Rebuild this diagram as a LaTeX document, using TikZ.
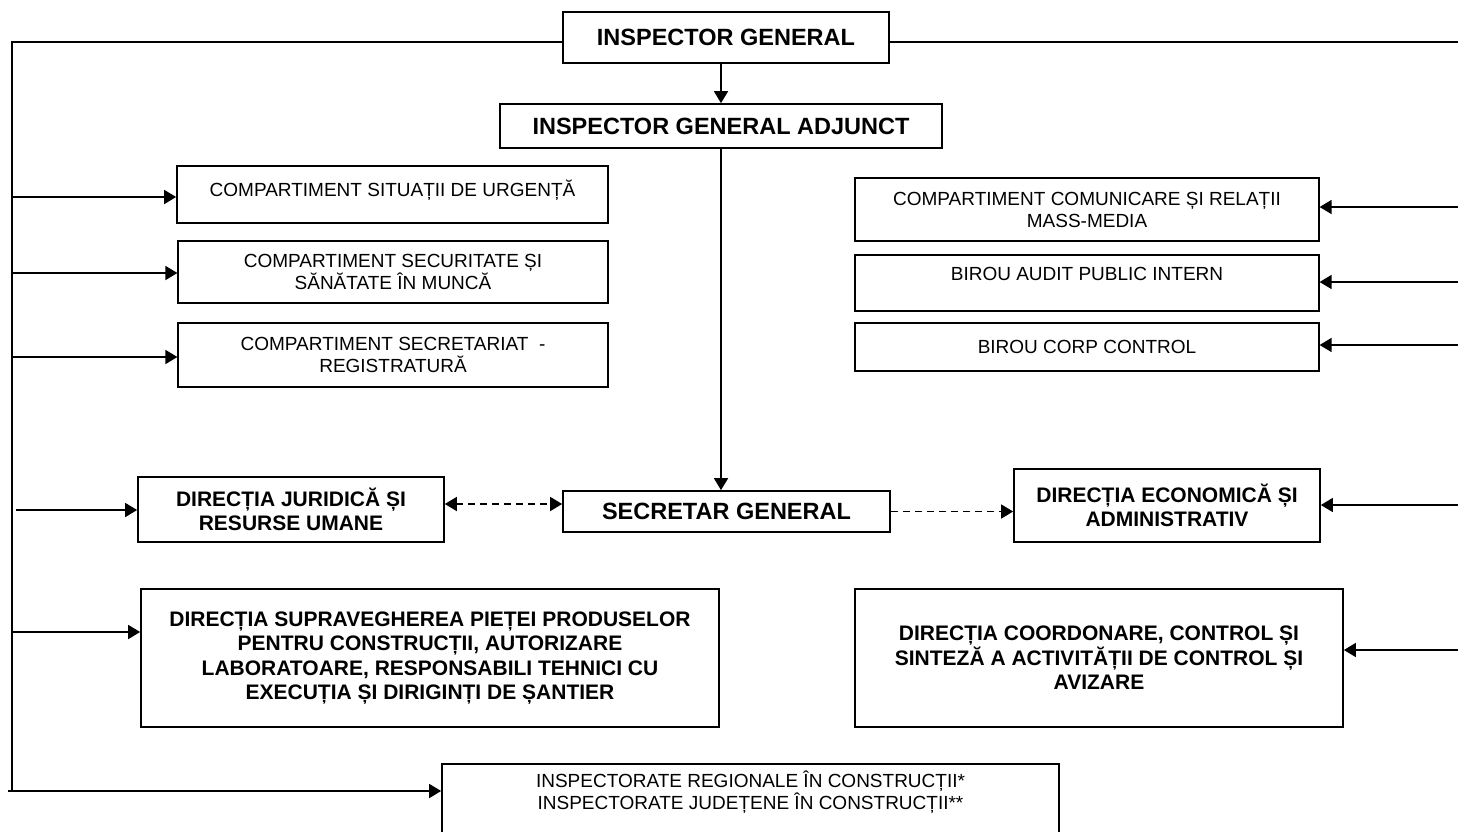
\documentclass[tikz,border=0pt]{standalone}
\usepackage{fontspec}
\setmainfont{Liberation Sans}
\usetikzlibrary{arrows.meta}

\begin{document}
\begin{tikzpicture}[x=1pt, y=-1pt,
    >={Triangle[length=12pt,width=14pt]},
    box/.style={draw, line width=1.7pt, align=center, inner sep=0pt},
    thinbox/.style={box, line width=1.2pt},
    unitfont/.style={font=\fontsize{19}{22}\selectfont},
    dirfont/.style={font=\bfseries\fontsize{21}{24.5}\selectfont},
    headfont/.style={font=\bfseries\fontsize{23.5}{28}\selectfont},
    link/.style={line width=1.6pt},
    arr/.style={link, ->},
    dasharr/.style={arr, dash pattern=on 7pt off 5pt}]

  \useasboundingbox (0,0) rectangle (1458,831);

  \node[box, headfont, minimum width=326pt, minimum height=51pt] (ig) at (726,37.5) {INSPECTOR GENERAL};
  \node[box, headfont, minimum width=442pt, minimum height=44pt] (iga) at (721,126) {INSPECTOR GENERAL ADJUNCT};
  \node[box, headfont, minimum width=327pt, minimum height=41pt] (sg) at (726.5,511.5) {SECRETAR GENERAL};

  \node[box, unitfont, minimum width=431pt, minimum height=57pt] (urgenta) at (392.5,194.5) {COMPARTIMENT SITUAȚII DE URGENȚĂ\\[-9pt]~};
  \node[thinbox, unitfont, minimum width=430pt, minimum height=62pt] (sanatate) at (393,272) {COMPARTIMENT SECURITATE ȘI\\SĂNĂTATE ÎN MUNCĂ};
  \node[thinbox, unitfont, minimum width=430pt, minimum height=64pt] (registratura) at (393,355) {COMPARTIMENT SECRETARIAT\ \ -\\REGISTRATURĂ};
  \node[box, dirfont, minimum width=306pt, minimum height=65pt] (juridic) at (291,509.5) {DIRECȚIA JURIDICĂ ȘI\\RESURSE UMANE};
  \node[box, dirfont, minimum width=578pt, minimum height=138pt] (piata) at (430,658) {DIRECȚIA SUPRAVEGHEREA PIEȚEI PRODUSELOR\\PENTRU CONSTRUCȚII, AUTORIZARE\\LABORATOARE, RESPONSABILI TEHNICI CU\\EXECUȚIA ȘI DIRIGINȚI DE ȘANTIER};
  \node[box, unitfont, minimum width=617pt, minimum height=74pt] (inspectorate) at (750.5,801) {INSPECTORATE REGIONALE ÎN CONSTRUCȚII*\\INSPECTORATE JUDEȚENE ÎN CONSTRUCȚII**\\~};

  \node[thinbox, unitfont, minimum width=464pt, minimum height=63pt] (media) at (1087,209.5) {COMPARTIMENT COMUNICARE ȘI RELAȚII\\MASS-MEDIA};
  \node[thinbox, unitfont, minimum width=464pt, minimum height=56pt] (audit) at (1087,283) {BIROU AUDIT PUBLIC INTERN\\[-4pt]~};
  \node[thinbox, unitfont, minimum width=464pt, minimum height=48pt] (corp) at (1087,347) {BIROU CORP CONTROL};
  \node[box, dirfont, minimum width=306pt, minimum height=73pt] (economic) at (1167,505.5) {DIRECȚIA ECONOMICĂ ȘI\\ADMINISTRATIV};
  \node[box, dirfont, minimum width=488pt, minimum height=138pt] (coordonare) at (1099,658) {DIRECȚIA COORDONARE, CONTROL ȘI\\SINTEZĂ A ACTIVITĂȚII DE CONTROL ȘI\\AVIZARE};

  \coordinate (lt) at (12,42);
  \coordinate (lb) at (12,791);
  \coordinate (rt) at (1460,42);
  \draw[link] (ig.west |- lt) -- (lt) -- (lb);
  \draw[link] (ig.east |- rt) -- (rt);
  \draw[arr] (iga.north |- ig.south) -- (iga.north);
  \draw[arr] (iga.south) -- (iga.south |- sg.north);

  \coordinate (l1) at (12,197);
  \coordinate (l2) at (12,273);
  \coordinate (l3) at (12,357);
  \coordinate (l4) at (16,510);
  \coordinate (l5) at (12,632);
  \coordinate (l6) at (8,791);
  \draw[arr] (l1) -- (l1 -| urgenta.west);
  \draw[arr] (l2) -- (l2 -| sanatate.west);
  \draw[arr] (l3) -- (l3 -| registratura.west);
  \draw[arr] (l4) -- (l4 -| juridic.west);
  \draw[arr] (l5) -- (l5 -| piata.west);
  \draw[arr] (l6) -- (l6 -| inspectorate.west);

  \coordinate (r1) at (1460,207);
  \coordinate (r2) at (1460,282);
  \coordinate (r3) at (1460,345);
  \coordinate (r4) at (1460,505);
  \coordinate (r5) at (1460,650);
  \draw[arr] (r1) -- (r1 -| media.east);
  \draw[arr] (r2) -- (r2 -| audit.east);
  \draw[arr] (r3) -- (r3 -| corp.east);
  \draw[arr] (r4) -- (r4 -| economic.east);
  \draw[arr] (r5) -- (r5 -| coordonare.east);

  \draw[dasharr, <->] ([yshift=5.5pt]juridic.east) -- ([yshift=5.5pt]juridic.east -| sg.west);
  \draw[dasharr] (sg.east) -- (sg.east -| economic.west);
\end{tikzpicture}
\end{document}
